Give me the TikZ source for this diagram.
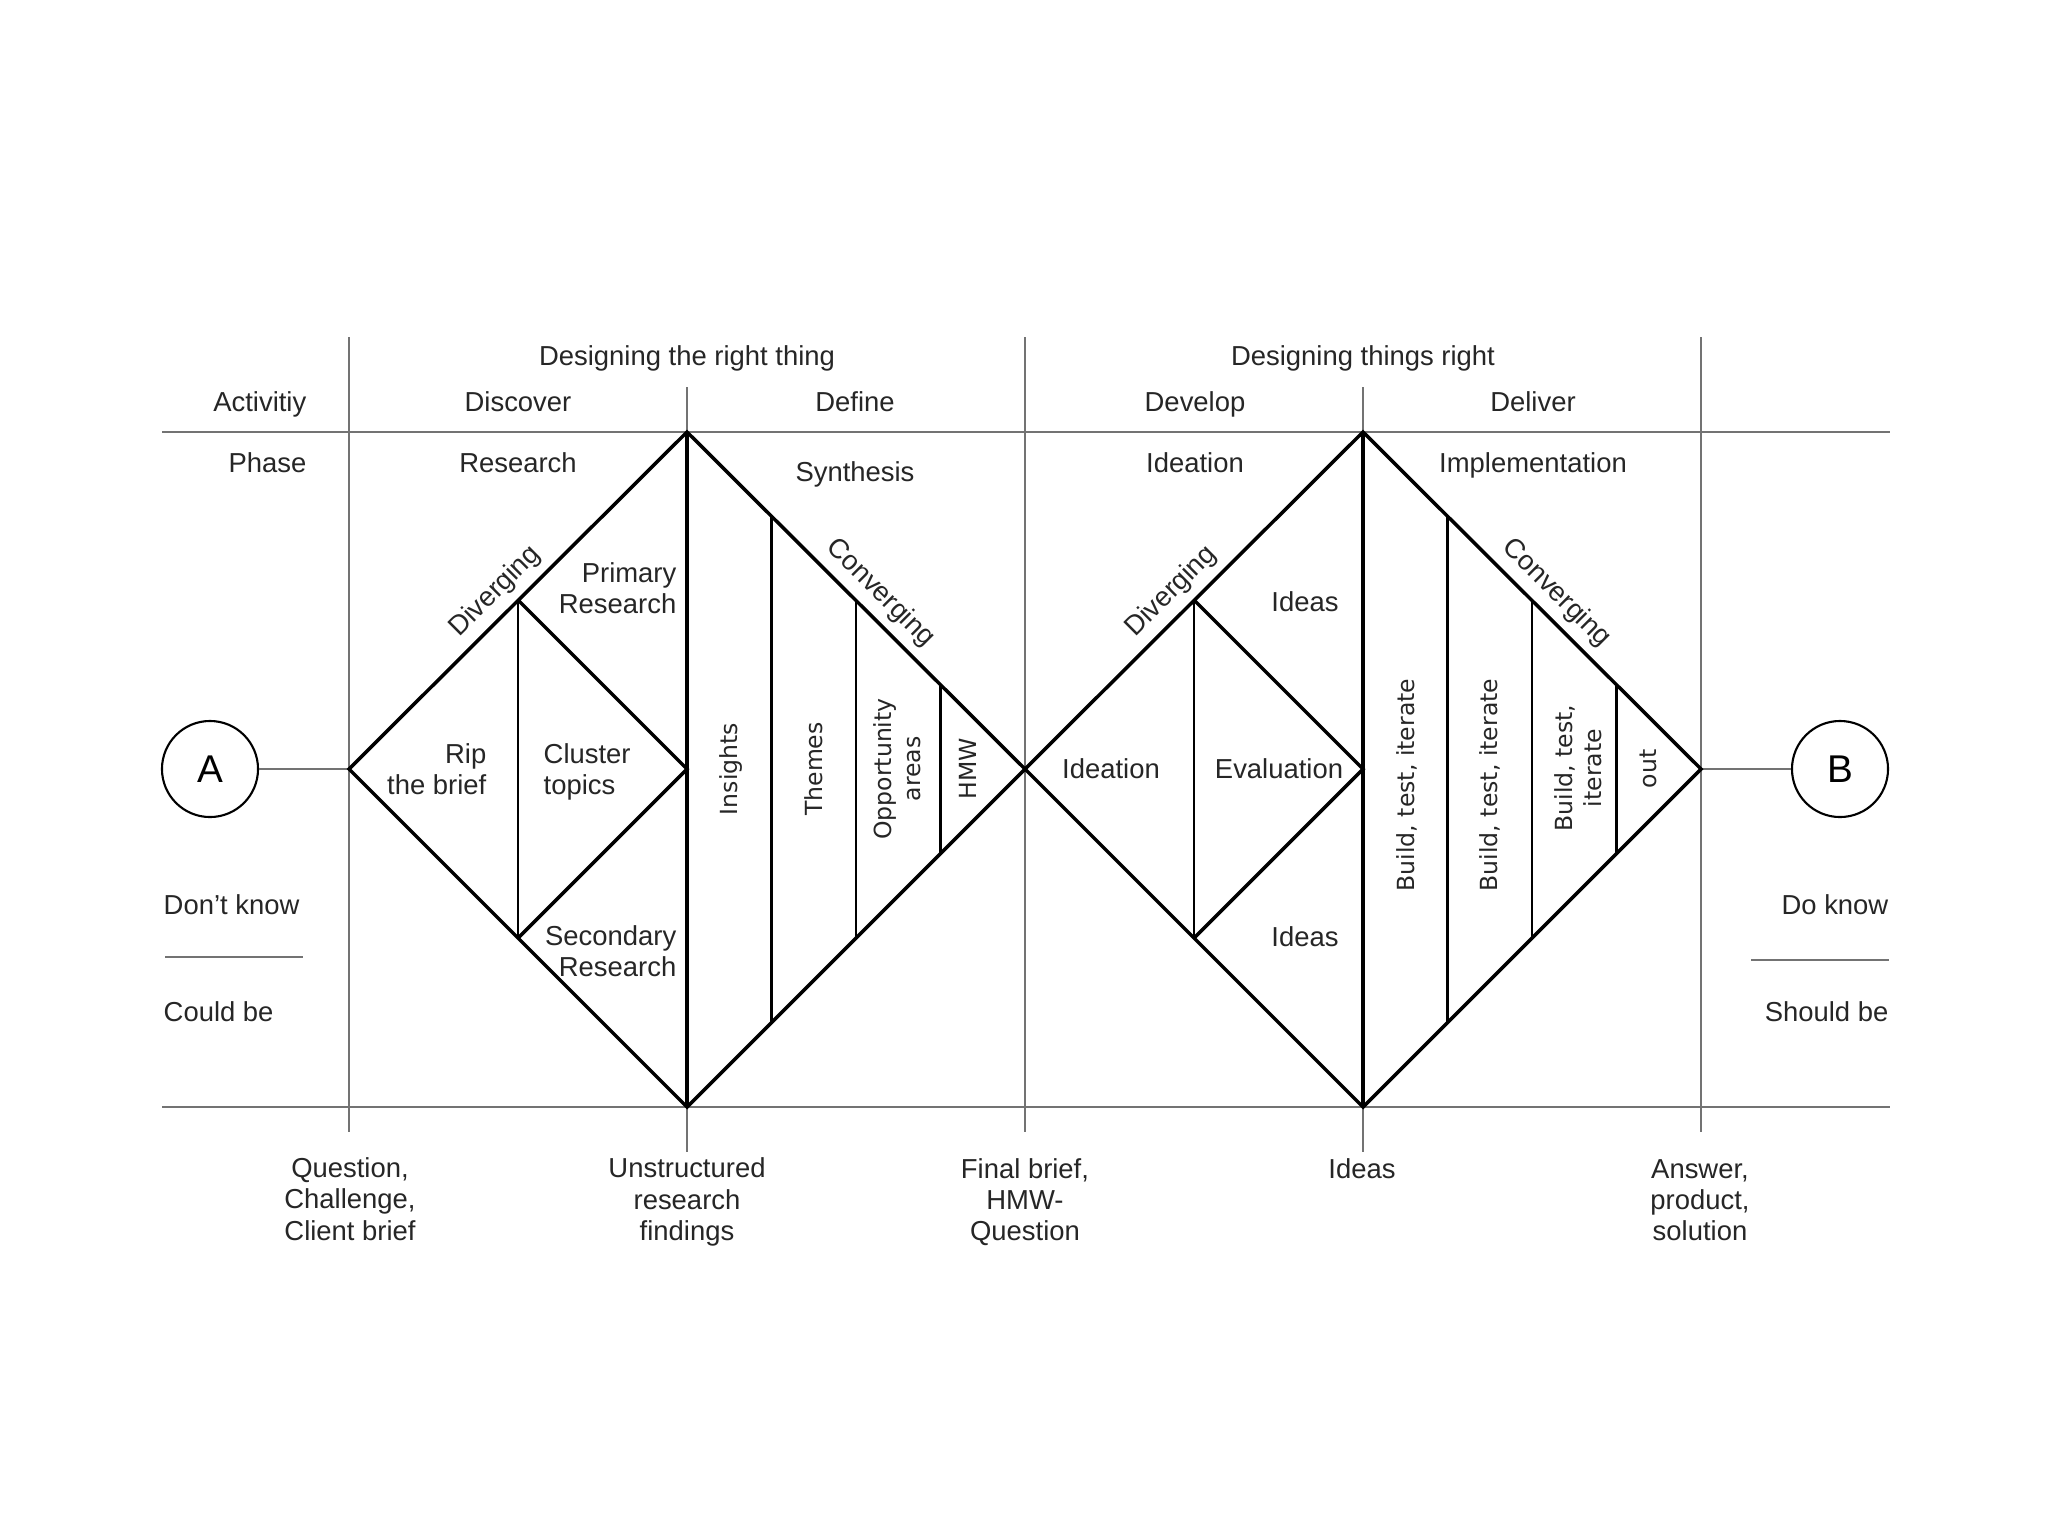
\documentclass[tikz,border=0pt]{standalone}
\usepackage{fontspec}
\setmainfont{Liberation Sans}
\newfontfamily\rotfont{DejaVu Sans}
\begin{document}
\begin{tikzpicture}[x=0.01cm,y=-0.01cm,
  txt/.style={font=\fontsize{7.8}{8.9}\selectfont, text=black!85, inner sep=0pt, align=center},
  lbl/.style={txt, text height=0.59em, text depth=0pt},
  rtxt/.style={font=\rotfont\fontsize{6.7}{8.2}\selectfont, rotate=90, text=black!85, inner sep=0pt, align=center},
  slopetxt/.style={font=\fontsize{7.8}{8.9}\selectfont, text=black!85, inner sep=0pt, sloped},
  thinline/.style={draw=black!55, line width=0.45pt},
  thickline/.style={draw=black, line width=1.0pt, line join=miter},
  midline/.style={draw=black, line width=0.7pt},
  endpt/.style={circle, draw=black, line width=0.6pt, minimum size=0.96cm, inner sep=0pt, font=\fontsize{11}{12}\selectfont}]
\useasboundingbox (0,0) rectangle (2048,1536);
\fill[white] (0,0) rectangle (2048,1536);

% grid lines
\coordinate (hl1) at (162,432); \coordinate (hr1) at (1890,432);
\coordinate (hl2) at (162,1107); \coordinate (hr2) at (1890,1107);
\draw[thinline] (hl1) -- (hr1);
\draw[thinline] (hl2) -- (hr2);
\foreach \x/\n in {349/va,1025/vb,1701/vc}{
  \coordinate (\n1) at (\x,337); \coordinate (\n2) at (\x,1132);
  \draw[thinline] (\n1) -- (\n2);
}
\foreach \x/\n in {687/vd,1363/ve}{
  \coordinate (\n1) at (\x,387); \coordinate (\n2) at (\x,1152);
  \draw[thinline] (\n1) -- (\n2);
}
\coordinate (dk1) at (165,957); \coordinate (dk2) at (303,957);
\draw[thinline] (dk1) -- (dk2);
\coordinate (dk3) at (1751,960); \coordinate (dk4) at (1889,960);
\draw[thinline] (dk3) -- (dk4);

% diamond vertices
\coordinate (L1) at (349,769); \coordinate (T1) at (687,432);
\coordinate (R1) at (1025,769); \coordinate (B1) at (687,1107);
\coordinate (T2) at (1363,432); \coordinate (R2) at (1701,769);
\coordinate (B2) at (1363,1107);
\coordinate (C1) at (687,769); \coordinate (C2) at (1363,769);

% endpoints
\node[endpt] (A) at (210,769) {A};
\node[endpt] (B) at (1840,769) {B};
\draw[thinline] (A) -- (L1);
\draw[thinline] (R2) -- (B);

% inner lines diamond 1
\coordinate (p1t) at (518,600); \coordinate (p1b) at (518,938);
\draw[midline] (p1t) -- (p1b);
\draw[thickline] (p1t) -- (C1) -- (p1b);
\coordinate (q1t) at (771.5,516.5); \coordinate (q1b) at (771.5,1022.5);
\coordinate (q2t) at (856,601); \coordinate (q2b) at (856,938);
\coordinate (q3t) at (940.5,685.5); \coordinate (q3b) at (940.5,853.5);
\draw[midline] (q1t) -- (q1b);
\draw[midline] (q2t) -- (q2b);
\draw[midline] (q3t) -- (q3b);
\draw[thickline] (T1) -- (B1);

% inner lines diamond 2
\coordinate (p2t) at (1194,600); \coordinate (p2b) at (1194,938);
\draw[midline] (p2t) -- (p2b);
\draw[thickline] (p2t) -- (C2) -- (p2b);
\coordinate (r1t) at (1447.5,516.5); \coordinate (r1b) at (1447.5,1022.5);
\coordinate (r2t) at (1532,601); \coordinate (r2b) at (1532,938);
\coordinate (r3t) at (1616.5,685.5); \coordinate (r3b) at (1616.5,853.5);
\draw[midline] (r1t) -- (r1b);
\draw[midline] (r2t) -- (r2b);
\draw[midline] (r3t) -- (r3b);
\draw[thickline] (T2) -- (B2);

% diamonds
\draw[thickline] (L1) -- (T1) -- (R1) -- (B1) -- cycle;
\draw[thickline] (R1) -- (T2) -- (R2) -- (B2) -- cycle;

% sloped labels
\path (L1) -- (T1) node[slopetxt, above=2.5pt, pos=0.48] (dv1) {Diverging};
\path (T1) -- (R1) node[slopetxt, above=2.5pt, pos=0.525] (cv1) {Converging};
\path (R1) -- (T2) node[slopetxt, above=2.5pt, pos=0.48] (dv2) {Diverging};
\path (T2) -- (R2) node[slopetxt, above=2.5pt, pos=0.525] (cv2) {Converging};

% header text
\node[lbl] (h1) at (687,355) {Designing the right thing};
\node[lbl] (h2) at (1363,355) {Designing things right};
\node[lbl, anchor=east] (act) at (307,401) {Activitiy};
\node[lbl] (disc) at (518,401) {Discover};
\node[lbl] (defi) at (855,401) {Define};
\node[lbl] (deve) at (1195,401) {Develop};
\node[lbl] (deli) at (1533,401) {Deliver};
\node[lbl, anchor=east] (phase) at (307,462) {Phase};
\node[lbl] (res) at (518,462) {Research};
\node[lbl] (syn) at (855,471) {Synthesis};
\node[lbl] (idea) at (1195,462) {Ideation};
\node[lbl] (impl) at (1533,462) {Implementation};

% side text
\node[lbl, anchor=west] (dk) at (163,904) {Don’t know};
\node[lbl, anchor=west] (cb) at (163,1011) {Could be};
\node[lbl, anchor=east] (dok) at (1889,904) {Do know};
\node[lbl, anchor=east] (sb) at (1889,1011) {Should be};

% diamond 1 text
\node[txt, align=right, anchor=east] (prim) at (677,588) {Primary\\Research};
\node[txt, align=right, anchor=east] (rip) at (487,769) {Rip\\the brief};
\node[txt, align=left, anchor=west] (clus) at (543,772) {Cluster\\topics};
\node[txt, align=right, anchor=east] (sec) at (677,951) {Secondary\\Research};
\node[rtxt] (ins) at (731,769) {Insights};
\node[rtxt] (the) at (814,769) {Themes};
\node[rtxt] (opp) at (897,769) {Opportunity\\areas};
\node[rtxt] (hmw) at (968,769) {HMW};

% diamond 2 text
\node[lbl] (ideat) at (1111,768) {Ideation};
\node[lbl] (eval) at (1279,768) {Evaluation};
\node[lbl] (ideas1) at (1305,601) {Ideas};
\node[lbl] (ideas2) at (1305,936) {Ideas};
\node[rtxt] (bti1) at (1407,785) {Build, test, iterate};
\node[rtxt] (bti2) at (1490,785) {Build, test, iterate};
\node[rtxt] (bti3) at (1578,768) {Build, test,\\iterate};
\node[rtxt] (out) at (1648,769) {out};

% bottom text
\node[txt] (b1) at (350,1199) {Question,\\Challenge,\\Client brief};
\node[txt] (b2) at (687,1202) {Unstructured\\research\\findings};
\node[txt] (b3) at (1025,1202) {Final brief,\\HMW-\\Question};
\node[lbl] (b4) at (1362,1168) {Ideas};
\node[txt] (b5) at (1700,1200) {Answer,\\product,\\solution};
\end{tikzpicture}
\end{document}
